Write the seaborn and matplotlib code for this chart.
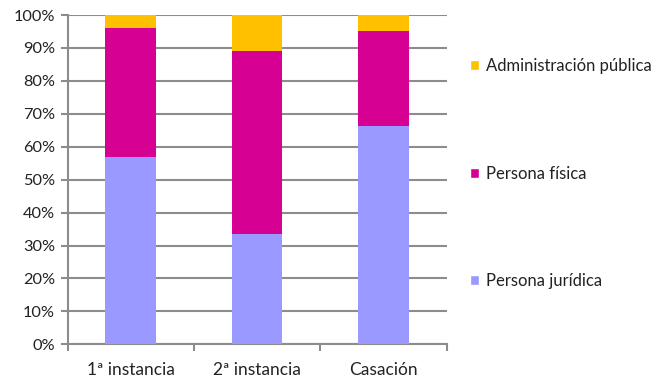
import matplotlib
matplotlib.use("Agg")
import matplotlib.pyplot as plt
from matplotlib.patches import Patch
from matplotlib.ticker import FixedLocator, FuncFormatter
import seaborn as sns
import pandas as pd
import numpy as np

categories = ["1ª instancia", "2ª instancia", "Casación"]
persona_juridica = [57.0, 33.6, 66.3]
persona_fisica = [39.1, 55.6, 28.7]
administracion_publica = [3.9, 10.8, 5.0]
series_names = ["Persona jurídica", "Persona física", "Administración pública"]
colors = ["#9999FF", "#D60093", "#FFC000"]

sns.set_theme(style="white")
plt.rcParams["font.family"] = ["Lato", "DejaVu Sans"]

fig = plt.figure(figsize=(6.62, 3.82), dpi=100)
ax = fig.add_axes([0.102, 0.0987, 0.573, 0.862])

jur = np.array(persona_juridica)
fis = np.array(persona_fisica)
adm = np.array(administracion_publica)
layers = [jur + fis + adm, jur + fis, jur]
layer_colors = [colors[2], colors[1], colors[0]]

for vals, c in zip(layers, layer_colors):
    df = pd.DataFrame({"cat": categories, "val": vals})
    sns.barplot(data=df, x="cat", y="val", color=c, width=0.4,
                saturation=1, ax=ax, zorder=3, edgecolor="none", linewidth=0)

ax.set_ylim(0, 100)
ax.set_xlim(-0.5, 2.5)
ax.set_yticks(np.arange(0, 101, 10))
ax.yaxis.set_major_formatter(FuncFormatter(lambda v, p: f"{int(v)}%"))
ax.yaxis.grid(True, color="#8c8c8c", linewidth=1.5, zorder=0)
ax.set_axisbelow(True)
ax.set_xlabel("")
ax.set_ylabel("")

for s in ["top", "right"]:
    ax.spines[s].set_visible(False)
for s in ["left", "bottom"]:
    ax.spines[s].set_color("#8c8c8c")
    ax.spines[s].set_linewidth(1.5)

ax.tick_params(axis="y", which="major", length=5, width=1.5, color="#8c8c8c",
               labelsize=11.8, labelcolor="#222222", pad=4, left=True)
ax.tick_params(axis="x", which="major", length=0, labelsize=12.5,
               labelcolor="#222222", pad=13)
ax.xaxis.set_minor_locator(FixedLocator([-0.5, 0.5, 1.5, 2.5]))
ax.tick_params(axis="x", which="minor", length=5, width=1.5, color="#8c8c8c", bottom=True)

handles = [Patch(facecolor=colors[2], label=series_names[2]),
           Patch(facecolor=colors[1], label=series_names[1]),
           Patch(facecolor=colors[0], label=series_names[0])]
fig.legend(handles=handles, loc="upper left", bbox_to_anchor=(0.700, 0.866),
           frameon=False, fontsize=12, labelspacing=5.5, handlelength=0.55,
           handleheight=0.55, handletextpad=0.4, borderaxespad=0, labelcolor="#222222")

fig.savefig("out.png", dpi=100)
